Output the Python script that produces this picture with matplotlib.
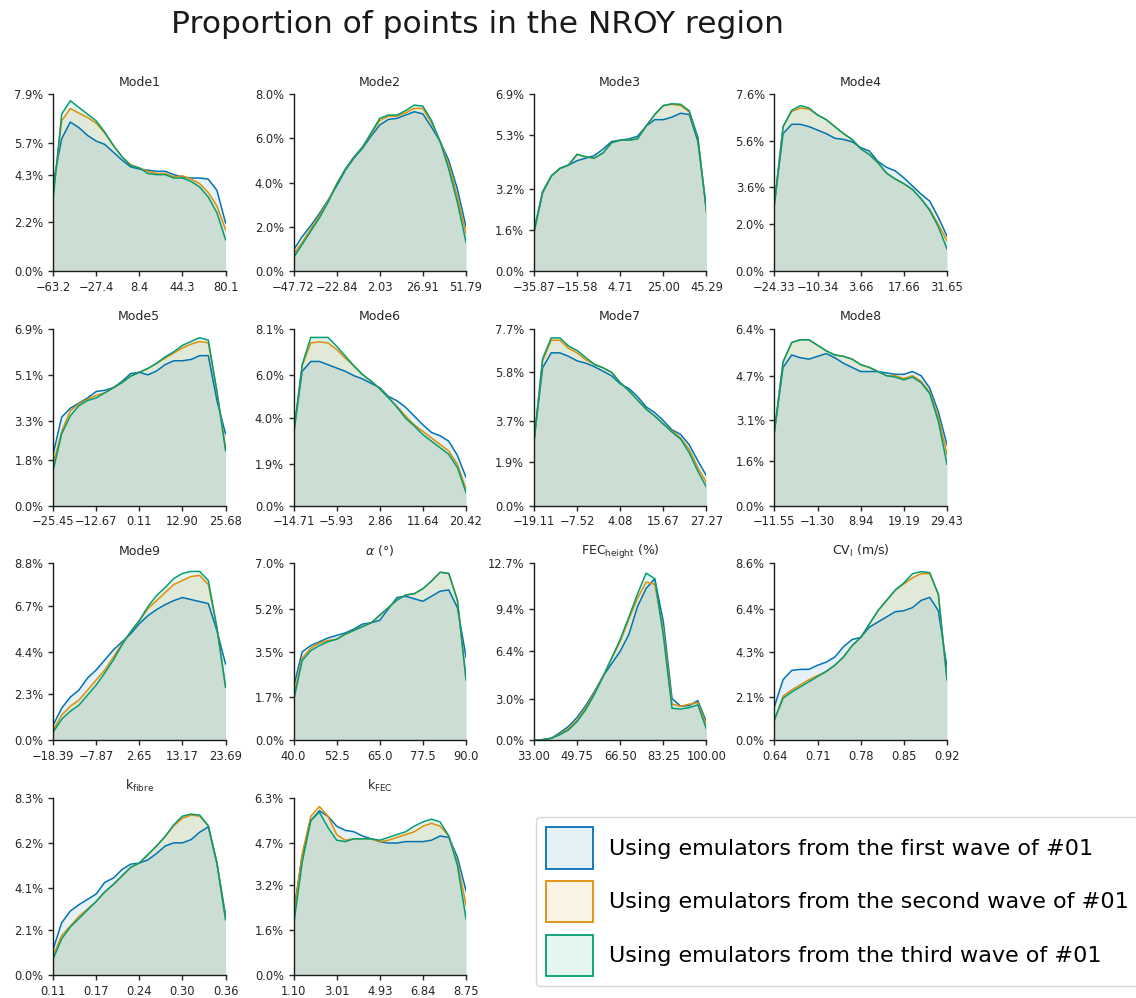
import numpy as np
import matplotlib
matplotlib.use("Agg")
import matplotlib.pyplot as plt
from matplotlib.patches import Patch

# legend text and colours (seaborn "colorblind" first three)
wave_labels = ["Using emulators from the first wave of #01",
               "Using emulators from the second wave of #01",
               "Using emulators from the third wave of #01"]
wave_colours = ["#0173B2", "#DE8F05", "#029E73"]

titles = ["Mode1", "Mode2", "Mode3", "Mode4", "Mode5", "Mode6", "Mode7",
          "Mode8", "Mode9", r"$\alpha$ (°)", r"FEC$_{\mathrm{height}}$ (%)",
          r"CV$_{\mathrm{l}}$ (m/s)", r"k$_{\mathrm{fibre}}$", r"k$_{\mathrm{FEC}}$"]

x_labels = [
    ["−63.2", "−27.4", "8.4", "44.3", "80.1"],
    ["−47.72", "−22.84", "2.03", "26.91", "51.79"],
    ["−35.87", "−15.58", "4.71", "25.00", "45.29"],
    ["−24.33", "−10.34", "3.66", "17.66", "31.65"],
    ["−25.45", "−12.67", "0.11", "12.90", "25.68"],
    ["−14.71", "−5.93", "2.86", "11.64", "20.42"],
    ["−19.11", "−7.52", "4.08", "15.67", "27.27"],
    ["−11.55", "−1.30", "8.94", "19.19", "29.43"],
    ["−18.39", "−7.87", "2.65", "13.17", "23.69"],
    ["40.0", "52.5", "65.0", "77.5", "90.0"],
    ["33.00", "49.75", "66.50", "83.25", "100.00"],
    ["0.64", "0.71", "0.78", "0.85", "0.92"],
    ["0.11", "0.17", "0.24", "0.30", "0.36"],
    ["1.10", "3.01", "4.93", "6.84", "8.75"],
]

y_ticks = [
    [0.0, 2.2, 4.3, 5.7, 7.9],
    [0.0, 2.0, 4.0, 6.0, 8.0],
    [0.0, 1.6, 3.2, 5.3, 6.9],
    [0.0, 2.0, 3.6, 5.6, 7.6],
    [0.0, 1.8, 3.3, 5.1, 6.9],
    [0.0, 1.9, 4.0, 6.0, 8.1],
    [0.0, 1.9, 3.7, 5.8, 7.7],
    [0.0, 1.6, 3.1, 4.7, 6.4],
    [0.0, 2.3, 4.4, 6.7, 8.8],
    [0.0, 1.7, 3.5, 5.2, 7.0],
    [0.0, 3.0, 6.4, 9.4, 12.7],
    [0.0, 2.1, 4.3, 6.4, 8.6],
    [0.0, 2.1, 4.1, 6.2, 8.3],
    [0.0, 1.6, 3.2, 4.7, 6.3],
]

# proportion (%) read at 21 evenly spaced points over each parameter range
# rows: first, second, third wave
mode1 = [
    [3.9, 5.9, 6.65, 6.4, 6.05, 5.8, 5.65, 5.3, 4.95, 4.65, 4.55, 4.5, 4.45, 4.45, 4.3, 4.2, 4.15, 4.15, 4.1, 3.6, 2.15],
    [3.35, 6.7, 7.25, 7.05, 6.85, 6.6, 6.15, 5.6, 5.1, 4.75, 4.6, 4.45, 4.35, 4.35, 4.2, 4.25, 4.1, 3.9, 3.5, 2.9, 1.85],
    [3.2, 7.0, 7.6, 7.3, 7.0, 6.7, 6.2, 5.6, 5.1, 4.7, 4.6, 4.35, 4.3, 4.3, 4.15, 4.15, 4.0, 3.75, 3.3, 2.6, 1.4],
]
mode2 = [
    [0.95, 1.55, 2.05, 2.6, 3.2, 3.85, 4.55, 5.1, 5.55, 6.1, 6.6, 6.85, 6.9, 7.05, 7.2, 7.1, 6.5, 5.85, 5.0, 3.7, 2.0],
    [0.75, 1.3, 1.9, 2.5, 3.15, 3.95, 4.6, 5.15, 5.6, 6.2, 6.8, 7.0, 7.0, 7.15, 7.35, 7.35, 6.7, 5.85, 4.8, 3.35, 1.7],
    [0.6, 1.2, 1.8, 2.4, 3.1, 3.9, 4.6, 5.15, 5.6, 6.25, 6.9, 7.05, 7.05, 7.25, 7.5, 7.45, 6.8, 5.85, 4.6, 3.1, 1.3],
]
mode3 = [
    [1.6, 3.1, 3.7, 4.0, 4.13, 4.3, 4.4, 4.5, 4.75, 5.05, 5.1, 5.15, 5.25, 5.65, 5.9, 5.9, 6.0, 6.15, 6.1, 5.05, 2.4],
    [1.5, 3.05, 3.7, 4.0, 4.13, 4.55, 4.45, 4.4, 4.6, 5.0, 5.1, 5.1, 5.15, 5.65, 6.1, 6.45, 6.5, 6.45, 6.2, 5.2, 2.3],
    [1.5, 3.05, 3.7, 4.0, 4.13, 4.55, 4.45, 4.4, 4.6, 5.0, 5.1, 5.1, 5.15, 5.65, 6.1, 6.45, 6.52, 6.5, 6.25, 5.2, 2.3],
]
mode4 = [
    [2.9, 5.9, 6.3, 6.3, 6.2, 6.05, 5.9, 5.7, 5.65, 5.55, 5.3, 5.15, 4.7, 4.45, 4.3, 4.0, 3.65, 3.3, 3.0, 2.3, 1.5],
    [2.9, 6.2, 6.85, 7.0, 6.95, 6.7, 6.5, 6.2, 5.9, 5.65, 5.25, 5.0, 4.65, 4.2, 3.95, 3.75, 3.5, 3.1, 2.65, 2.0, 1.3],
    [2.9, 6.2, 6.9, 7.1, 7.0, 6.7, 6.5, 6.2, 5.9, 5.65, 5.25, 5.0, 4.65, 4.2, 3.95, 3.75, 3.5, 3.1, 2.6, 1.9, 0.95],
]
mode5 = [
    [2.0, 3.45, 3.8, 4.0, 4.2, 4.45, 4.5, 4.6, 4.85, 5.15, 5.2, 5.1, 5.25, 5.5, 5.65, 5.65, 5.7, 5.85, 5.85, 4.1, 2.8],
    [1.6, 2.9, 3.7, 3.97, 4.15, 4.3, 4.4, 4.6, 4.8, 5.05, 5.2, 5.35, 5.55, 5.75, 5.95, 6.15, 6.3, 6.4, 6.35, 4.45, 2.25],
    [1.35, 2.8, 3.5, 3.9, 4.1, 4.2, 4.4, 4.6, 4.8, 5.05, 5.2, 5.35, 5.55, 5.8, 6.0, 6.25, 6.4, 6.55, 6.45, 4.45, 2.15],
]
mode6 = [
    [3.25, 6.15, 6.6, 6.6, 6.45, 6.3, 6.15, 5.95, 5.8, 5.6, 5.4, 5.0, 4.8, 4.5, 4.1, 3.7, 3.35, 3.2, 2.95, 2.3, 1.3],
    [3.25, 6.4, 7.45, 7.5, 7.45, 7.15, 6.75, 6.4, 6.0, 5.7, 5.35, 4.95, 4.55, 4.1, 3.7, 3.4, 3.1, 2.8, 2.5, 1.9, 0.75],
    [3.25, 6.45, 7.7, 7.7, 7.7, 7.3, 6.85, 6.4, 6.0, 5.7, 5.35, 4.95, 4.5, 4.0, 3.65, 3.25, 2.95, 2.65, 2.35, 1.75, 0.6],
]
mode7 = [
    [2.8, 6.0, 6.65, 6.65, 6.5, 6.3, 6.2, 6.05, 5.85, 5.65, 5.3, 5.1, 4.75, 4.3, 4.05, 3.7, 3.3, 3.1, 2.65, 1.95, 1.3],
    [2.8, 6.3, 7.2, 7.2, 6.85, 6.65, 6.35, 6.15, 6.0, 5.8, 5.35, 5.0, 4.6, 4.2, 3.9, 3.55, 3.25, 2.95, 2.45, 1.65, 1.0],
    [2.8, 6.4, 7.3, 7.3, 6.95, 6.75, 6.45, 6.15, 6.0, 5.8, 5.35, 5.0, 4.6, 4.2, 3.9, 3.55, 3.2, 2.9, 2.3, 1.5, 0.8],
]
mode8 = [
    [2.7, 5.0, 5.45, 5.35, 5.3, 5.4, 5.5, 5.35, 5.15, 5.0, 4.85, 4.85, 4.85, 4.8, 4.75, 4.75, 4.85, 4.7, 4.25, 3.4, 2.2],
    [2.7, 5.2, 5.9, 6.0, 6.0, 5.8, 5.6, 5.45, 5.4, 5.3, 5.1, 5.0, 4.85, 4.7, 4.7, 4.6, 4.7, 4.5, 4.1, 3.2, 1.85],
    [2.7, 5.2, 5.9, 6.0, 6.0, 5.8, 5.6, 5.45, 5.4, 5.3, 5.1, 5.0, 4.85, 4.7, 4.65, 4.55, 4.65, 4.45, 4.05, 3.05, 1.5],
]
mode9 = [
    [0.75, 1.6, 2.15, 2.5, 3.1, 3.5, 4.0, 4.5, 4.9, 5.3, 5.8, 6.2, 6.5, 6.75, 6.95, 7.1, 7.0, 6.9, 6.8, 5.45, 3.8],
    [0.5, 1.25, 1.7, 2.0, 2.5, 3.0, 3.5, 4.15, 4.8, 5.4, 5.95, 6.55, 6.95, 7.35, 7.75, 7.95, 8.15, 8.2, 7.75, 5.6, 2.65],
    [0.4, 1.05, 1.45, 1.75, 2.25, 2.75, 3.35, 4.0, 4.75, 5.4, 5.95, 6.65, 7.2, 7.6, 8.05, 8.3, 8.4, 8.4, 7.95, 5.6, 2.65],
]
alpha_deg = [
    [2.1, 3.5, 3.75, 3.9, 4.05, 4.15, 4.25, 4.4, 4.6, 4.65, 4.75, 5.2, 5.65, 5.7, 5.6, 5.5, 5.7, 5.9, 5.95, 5.25, 3.3],
    [1.75, 3.25, 3.65, 3.85, 3.95, 4.0, 4.2, 4.35, 4.5, 4.65, 4.95, 5.25, 5.55, 5.75, 5.8, 6.0, 6.3, 6.65, 6.6, 5.55, 2.4],
    [1.55, 3.15, 3.55, 3.75, 3.9, 4.0, 4.2, 4.35, 4.5, 4.65, 4.95, 5.25, 5.55, 5.75, 5.8, 6.0, 6.3, 6.65, 6.6, 5.55, 2.4],
]
fec_height = [
    [0.0, 0.05, 0.15, 0.55, 1.0, 1.65, 2.5, 3.5, 4.6, 5.5, 6.4, 7.6, 9.6, 10.9, 11.6, 8.5, 3.0, 2.45, 2.5, 2.85, 1.3],
    [0.0, 0.05, 0.15, 0.45, 0.85, 1.45, 2.35, 3.4, 4.6, 5.9, 7.1, 8.7, 10.2, 11.35, 11.2, 7.9, 2.6, 2.45, 2.6, 2.7, 1.1],
    [0.0, 0.05, 0.15, 0.4, 0.75, 1.35, 2.2, 3.3, 4.55, 5.9, 7.25, 8.85, 10.5, 12.0, 11.6, 7.5, 2.3, 2.25, 2.35, 2.55, 0.8],
]
cv_l = [
    [1.65, 2.95, 3.4, 3.45, 3.45, 3.65, 3.8, 4.05, 4.55, 4.9, 5.0, 5.5, 5.75, 6.0, 6.25, 6.3, 6.45, 6.8, 6.95, 6.3, 3.55],
    [1.0, 2.15, 2.45, 2.7, 2.95, 3.15, 3.35, 3.65, 4.05, 4.6, 5.0, 5.65, 6.3, 6.8, 7.3, 7.6, 7.9, 8.1, 8.1, 7.1, 2.95],
    [1.0, 2.05, 2.35, 2.6, 2.85, 3.1, 3.35, 3.65, 4.05, 4.6, 5.0, 5.65, 6.3, 6.8, 7.3, 7.65, 8.1, 8.2, 8.15, 7.1, 2.95],
]
k_fibre = [
    [1.2, 2.45, 3.0, 3.3, 3.55, 3.8, 4.35, 4.55, 4.95, 5.2, 5.25, 5.4, 5.7, 6.05, 6.2, 6.2, 6.35, 6.7, 6.95, 5.25, 2.8],
    [0.9, 1.85, 2.3, 2.75, 3.1, 3.45, 3.9, 4.25, 4.65, 5.05, 5.25, 5.65, 6.05, 6.5, 7.0, 7.35, 7.5, 7.45, 7.0, 5.25, 2.6],
    [0.75, 1.7, 2.25, 2.65, 3.05, 3.45, 3.9, 4.25, 4.65, 5.05, 5.25, 5.65, 6.05, 6.5, 7.05, 7.45, 7.55, 7.5, 7.0, 5.25, 2.6],
]
k_fec = [
    [2.2, 4.25, 5.5, 5.85, 5.65, 5.3, 5.15, 5.1, 4.95, 4.85, 4.75, 4.7, 4.7, 4.75, 4.75, 4.75, 4.8, 4.95, 4.9, 4.2, 3.0],
    [2.1, 4.3, 5.65, 6.0, 5.65, 5.0, 4.8, 4.85, 4.85, 4.85, 4.75, 4.8, 4.9, 5.0, 5.1, 5.3, 5.4, 5.3, 4.95, 4.0, 2.5],
    [1.75, 4.0, 5.5, 5.8, 5.25, 4.8, 4.75, 4.85, 4.85, 4.85, 4.8, 4.9, 5.0, 5.1, 5.3, 5.45, 5.55, 5.45, 4.95, 3.9, 2.0],
]

panels = [mode1, mode2, mode3, mode4, mode5, mode6, mode7, mode8, mode9,
          alpha_deg, fec_height, cv_l, k_fibre, k_fec]


def to_float(s):
    return float(s.replace("−", "-"))


fig, axes = plt.subplots(4, 4, figsize=(11.36, 9.98), dpi=100)
fig.subplots_adjust(left=0.0467, right=0.8336, top=0.9058, bottom=0.023,
                    wspace=0.394, hspace=0.326)
axes = axes.ravel()

for k, ax in enumerate(axes):
    if k >= len(panels):
        ax.set_visible(False)
        continue
    lo, hi = to_float(x_labels[k][0]), to_float(x_labels[k][-1])
    for vals, col in zip(panels[k], wave_colours):
        x = np.linspace(lo, hi, len(vals))
        ax.fill_between(x, vals, color=col, alpha=0.1, lw=0)
        ax.plot(x, vals, color=col, lw=1.1)
    ax.set_xlim(lo, hi)
    ax.set_ylim(0, y_ticks[k][-1])
    ax.set_xticks(np.linspace(lo, hi, 5))
    ax.set_xticklabels(x_labels[k])
    ax.set_yticks(y_ticks[k])
    ax.set_yticklabels([f"{v:.1f}%" for v in y_ticks[k]])
    ax.set_title(titles[k], fontsize=9, color="0.15")
    ax.spines["top"].set_visible(False)
    ax.spines["right"].set_visible(False)
    for s in ("left", "bottom"):
        ax.spines[s].set_color("0.1")
        ax.spines[s].set_linewidth(1.0)
    ax.tick_params(labelsize=8.3, colors="0.15", length=3.5, width=1.0)

fig.text(0.42, 0.975, "Proportion of points in the NROY region",
         ha="center", va="center", fontsize=22.5, color="0.1")

handles = [Patch(facecolor=matplotlib.colors.to_rgba(c, 0.1), edgecolor=c, lw=1.3)
           for c in wave_colours]
fig.legend(handles, wave_labels, loc="upper left", bbox_to_anchor=(0.4718, 0.1814),
           borderaxespad=0, fontsize=16, handlelength=2.1, handleheight=2.5,
           labelspacing=0.55, handletextpad=0.75, borderpad=0.45,
           frameon=True, edgecolor="0.8")

fig.savefig("out.png", dpi=100)
